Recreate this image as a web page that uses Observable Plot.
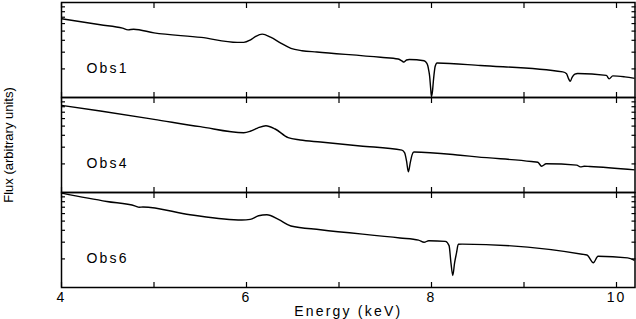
<!DOCTYPE html>
<html><head><meta charset="utf-8">
<script src="https://cdn.jsdelivr.net/npm/d3@7"></script>
<script src="https://cdn.jsdelivr.net/npm/@observablehq/plot@0.6"></script>
<style>
html,body{margin:0;padding:0;background:#fff;}
</style>
</head><body><div id="chart"></div>
<script>
const observations = ["Obs1", "Obs4", "Obs6"];

const obs1Energy = [4.0, 4.42, 4.66, 4.72, 4.78, 5.0, 5.51, 5.9, 5.97, 6.04, 6.1, 6.17, 6.26, 6.37, 6.48, 6.6, 6.76, 7.45, 7.64, 7.68, 7.70, 7.73, 7.76, 7.92, 7.95, 7.96, 7.97, 7.98, 7.99, 8.0, 8.01, 8.02, 8.03, 8.04, 8.06, 8.53, 9.42, 9.46, 9.48, 9.5, 9.52, 9.55, 9.58, 9.89, 9.92, 9.96, 10.09, 10.2];
const obs1Flux   = [6.74, 5.83, 5.37, 5.15, 5.23, 4.79, 4.29, 3.80, 3.80, 4.02, 4.40, 4.65, 4.32, 3.74, 3.29, 3.11, 3.01, 2.65, 2.54, 2.43, 2.36, 2.48, 2.51, 2.44, 2.29, 2.16, 1.93, 1.67, 1.28, 1.03, 1.15, 1.48, 1.84, 2.13, 2.31, 2.17, 1.86, 1.78, 1.59, 1.48, 1.63, 1.76, 1.79, 1.71, 1.57, 1.69, 1.65, 1.59];

const obs4Energy = [4.0, 4.42, 5.0, 5.5, 5.97, 6.04, 6.12, 6.21, 6.31, 6.45, 6.58, 6.80, 7.23, 7.68, 7.71, 7.73, 7.75, 7.77, 7.79, 7.81, 8.31, 8.49, 9.08, 9.15, 9.19, 9.24, 9.57, 9.61, 9.65, 9.71, 10.2];
const obs4Flux   = [8.26, 7.2, 5.89, 4.93, 4.26, 4.41, 4.77, 5.05, 4.66, 3.78, 3.57, 3.40, 3.09, 2.79, 2.61, 2.15, 1.65, 2.05, 2.49, 2.67, 2.47, 2.37, 2.12, 2.08, 1.89, 2.01, 1.94, 1.86, 1.89, 1.88, 1.73];

const obs6Energy = [4.0, 4.49, 4.80, 4.84, 4.88, 5.39, 5.95, 6.04, 6.13, 6.22, 6.35, 6.48, 6.8, 7.66, 7.86, 7.92, 7.97, 8.15, 8.19, 8.21, 8.23, 8.25, 8.27, 8.29, 8.33, 9.68, 9.75, 9.80, 10.12, 10.2];
const obs6Flux   = [9.86, 8.05, 7.20, 7.00, 7.03, 5.83, 5.13, 5.21, 5.69, 5.83, 5.17, 4.44, 4.06, 3.32, 3.15, 2.99, 3.11, 3.06, 2.76, 1.83, 1.34, 1.83, 2.3, 2.85, 2.86, 2.20, 1.82, 2.13, 2.05, 1.92];

const xMajorTicks = [4, 5, 6, 7, 8, 9, 10];
const xTickLabels = [4, 6, 8, 10];
const yMinorTicks = [2, 3, 4, 5, 6, 7, 8, 9];
const xLabel = "Energy (keV)";
const yLabel = "Flux (arbitrary units)";

const rows = [];
[[obs1Energy, obs1Flux], [obs4Energy, obs4Flux], [obs6Energy, obs6Flux]].forEach(([e, f], k) => {
  e.forEach((x, i) => rows.push({obs: observations[k], energy: x, flux: f[i]}));
});

const chart = Plot.plot({
  width: 636, height: 319,
  marginLeft: 61, marginRight: 1.5, marginTop: 1, marginBottom: 32,
  style: {fontFamily: '"Liberation Sans", Arial, sans-serif', fontSize: "14px", color: "black", background: "white"},
  x: {domain: [4, 10.2]},
  y: {type: "log", domain: [1, 10]},
  fy: {domain: observations, padding: 0, axis: null},
  marks: [
    Plot.line(rows, {x: "energy", y: "flux", fy: "obs", curve: "monotone-x", stroke: "black", strokeWidth: 1.4, clip: true}),
    Plot.frame({stroke: "black", strokeWidth: 1.5}),
    Plot.axisX(xMajorTicks, {anchor: "bottom", facetAnchor: null, tickSize: 5, dy: -5, fill: "none", label: null, strokeWidth: 1.2}),
    Plot.axisX(xMajorTicks, {anchor: "top", facetAnchor: null, tickSize: 5, dy: 5, fill: "none", label: null, strokeWidth: 1.2}),
    Plot.axisY(yMinorTicks, {anchor: "left", facetAnchor: null, tickSize: 4, dx: 4, fill: "none", label: null, strokeWidth: 1.2}),
    Plot.axisY(yMinorTicks, {anchor: "right", facetAnchor: null, tickSize: 4, dx: -4, fill: "none", label: null, strokeWidth: 1.2}),
    Plot.axisX(xTickLabels, {anchor: "bottom", tickSize: 0, tickPadding: 5, label: xLabel, labelAnchor: "center", labelArrow: "none", labelOffset: 28}),
    Plot.text(observations, {fy: d => d, text: d => d, frameAnchor: "bottom-left", textAnchor: "start", lineAnchor: "middle", dx: 25, dy: -29, fill: "black"}),
    Plot.text([yLabel], {fy: () => "Obs4", text: d => d, frameAnchor: "left", rotate: -90, dx: -53, textAnchor: "middle", lineAnchor: "middle", fontSize: 13, fill: "black"})
  ]
});
document.getElementById("chart").appendChild(chart);

const svg = d3.select(chart);
svg.selectAll('g[aria-label="x-axis tick label"] text').style("letter-spacing", "2px");
svg.selectAll('g[aria-label="x-axis label"] text').style("letter-spacing", "2.2px");
svg.selectAll("text").filter(function () { return observations.includes(this.textContent); }).style("letter-spacing", "2.2px");
</script>
</body></html>
